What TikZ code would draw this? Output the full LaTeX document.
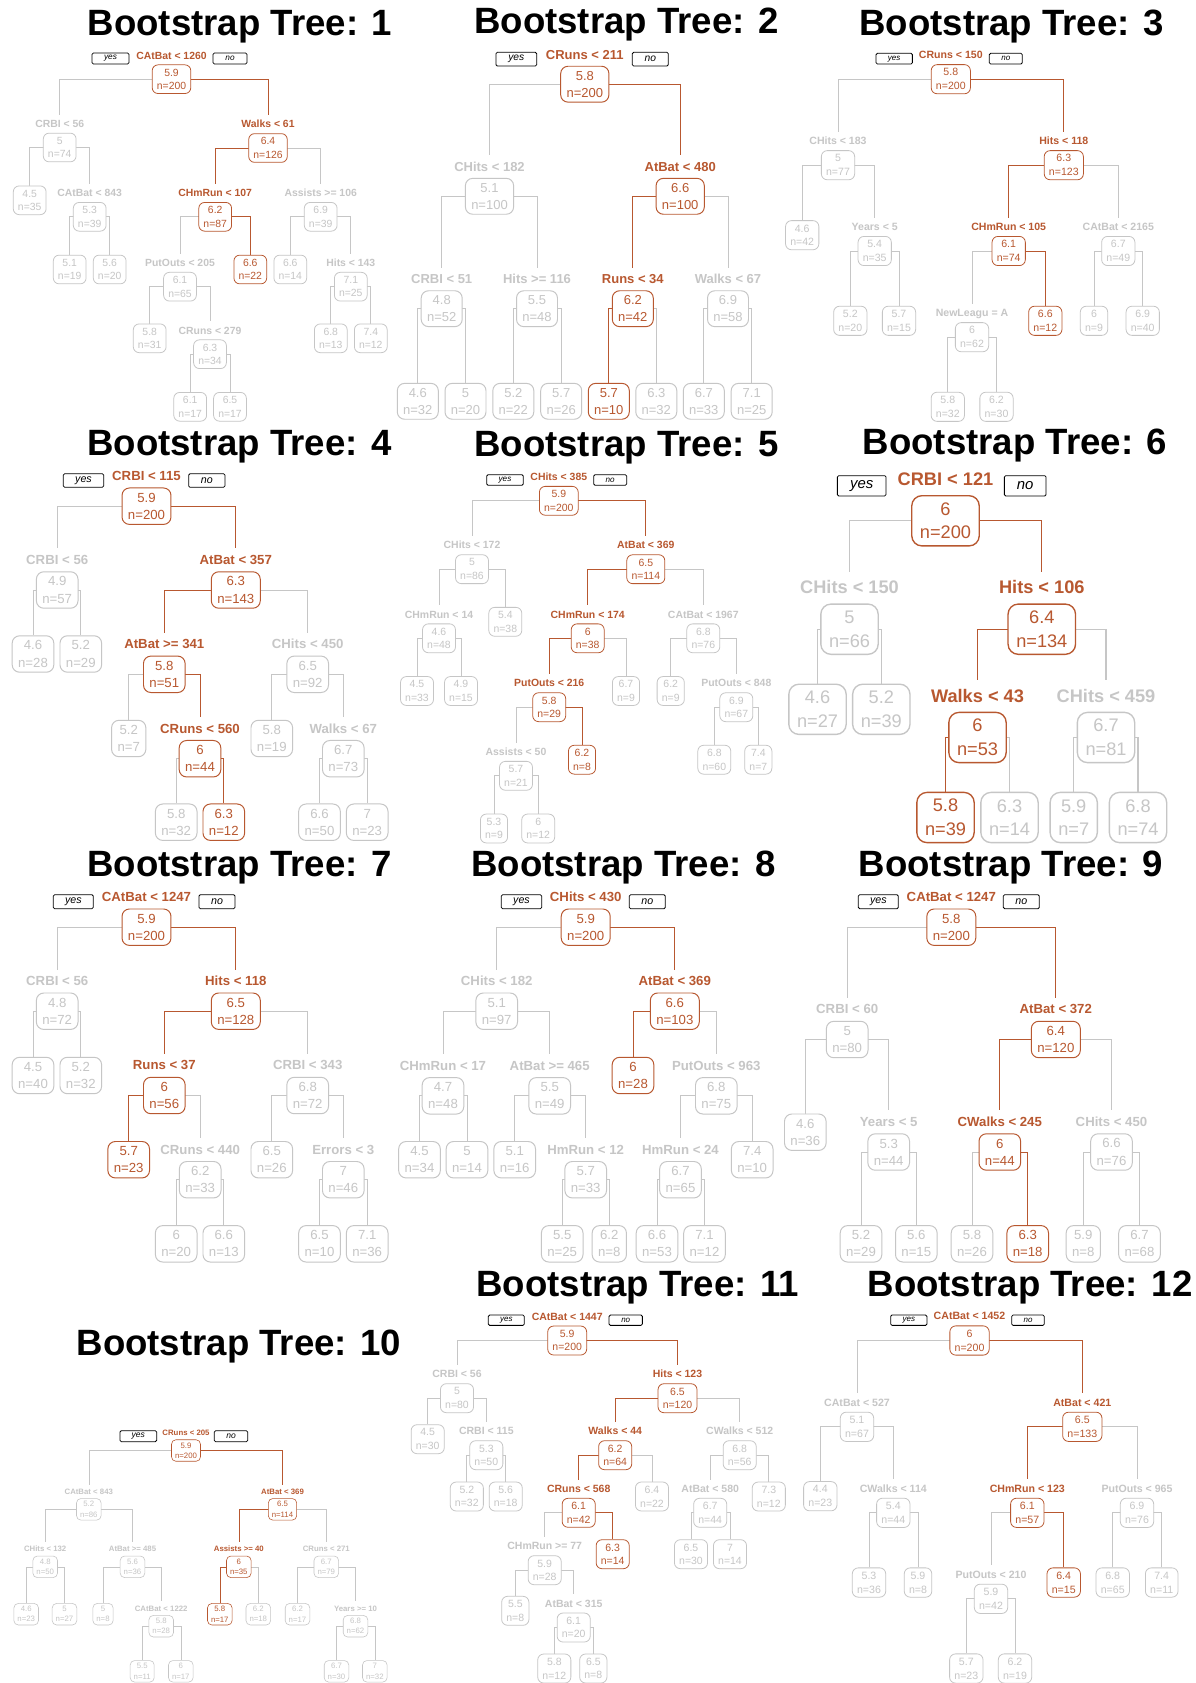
\documentclass[tikz,border=0pt]{standalone}
\usepackage{fontspec}
\setmainfont{Liberation Sans}
\pgfdeclarelayer{background}
\pgfsetlayers{background,main}
\definecolor{pathc}{RGB}{184,88,48}
\definecolor{greyc}{RGB}{198,198,198}
\newcommand\tSize[1]{%
 \pgfmathsetmacro\tsz{#1*0.75}%
 \pgfmathsetmacro\tbsz{#1*0.975}%
 \pgfmathsetmacro\trc{#1*0.42}%
 \pgfmathsetmacro\tixs{#1*0.3375}%
 \pgfmathsetmacro\tmh{#1*2.07}%
 \pgfmathsetmacro\tlw{#1*0.056}%
 \pgfmathsetmacro\tlth{#1*0.54}%
 \pgfmathsetmacro\tliy{#1*0.36}%
 \pgfmathsetmacro\tlgap{#1*0.39}%
}
\tikzset{
 bx/.style={draw, rounded corners=\trc pt, fill=white, align=center,
   inner xsep=\tixs pt, inner ysep=0pt, minimum height=\tmh pt,
   font=\fontsize{\tsz pt}{\tbsz pt}\selectfont, line width=\tlw pt},
 lab/.style={anchor=base, font=\fontsize{\tsz pt}{\tbsz pt}\selectfont\bfseries,
   inner xsep=0pt, inner ysep=\tliy pt, text height=\tlth pt, text depth=0pt},
 og/.style={draw=pathc, text=pathc},
 gy/.style={draw=greyc, text=greyc},
 eo/.style={line width=\tlw pt, draw=pathc},
 eg/.style={line width=\tlw pt, draw=greyc},
 yn/.style={draw=black, rounded corners=1pt, inner sep=0pt, line width=0.6pt, fill=white,
   font=\fontsize{\tynf pt}{\tynf pt}\selectfont\itshape},
 ttl/.style={anchor=base, inner sep=0pt, font=\fontsize{27.45pt}{30pt}\selectfont\bfseries},
}
\newcommand\tSN[7]{\node[bx,#6] (#1) at (#2,#3) {#4\\n=#5};
 \node[lab,#6,draw=none] (#1L) at ([yshift=\tlgap pt]#1.north) {#7};}
\newcommand\tLF[6]{\node[bx,#6] (#1) at (#2,#3) {#4\\n=#5};}
\newcommand\tEG[2]{\draw[eg] (#1.center) -| (#2.north);}
\newcommand\tEO[2]{\draw[eo] (#1.center) -| (#2.north);}
\newcommand\tYN[6]{\node[yn, minimum width=#4*0.75pt, minimum height=#5*0.75pt] (#1) at (#2,#3) {#6};}
\begin{document}
\begin{tikzpicture}[x=0.75pt, y=-0.75pt]
\begin{pgfonlayer}{background}
\fill[white] (0,0) rectangle (1195,1683);
\end{pgfonlayer}
\useasboundingbox (0,0) rectangle (1195,1683);

% titles
\node[ttl] (T1) at (240,36) {Bootstrap Tree: 1};
\node[ttl] (T2) at (626.5,34) {Bootstrap Tree: 2};
\node[ttl] (T3) at (1011.5,36) {Bootstrap Tree: 3};
\node[ttl] (T4) at (239.5,455.5) {Bootstrap Tree: 4};
\node[ttl] (T5) at (626.5,456.5) {Bootstrap Tree: 5};
\node[ttl] (T6) at (1015,454.5) {Bootstrap Tree: 6};
\node[ttl] (T7) at (239.5,876) {Bootstrap Tree: 7};
\node[ttl] (T8) at (623.5,876) {Bootstrap Tree: 8};
\node[ttl] (T9) at (1011,876) {Bootstrap Tree: 9};
\node[ttl] (T10) at (239,1355) {Bootstrap Tree: 10};
\node[ttl] (T11) at (637.7,1296.5) {Bootstrap Tree: 11};
\node[ttl] (T12) at (1030,1296.5) {Bootstrap Tree: 12};

% ---------------- Tree 1
\begin{scope}
\tSize{10.4}\def\tynf{6.2}
\tSN{t1}{171.5}{79.2}{5.9}{200}{og}{CAtBat < 1260}
\tSN{t1l}{59.7}{147.5}{5}{74}{gy}{CRBI < 56}
\tSN{t1r}{268}{148}{6.4}{126}{og}{Walks < 61}
\tLF{t1ll}{29.7}{200.3}{4.5}{35}{gy}
\tSN{t1lr}{89.7}{216.8}{5.3}{39}{gy}{CAtBat < 843}
\tLF{t1lrl}{69.7}{269.5}{5.1}{19}{gy}
\tLF{t1lrr}{109.7}{269.5}{5.6}{20}{gy}
\tSN{t1rl}{215.2}{216.8}{6.2}{87}{og}{CHmRun < 107}
\tSN{t1rr}{320.7}{216.8}{6.9}{39}{gy}{Assists >= 106}
\tSN{t1rll}{180}{286.7}{6.1}{65}{gy}{PutOuts < 205}
\tLF{t1rlr}{250.3}{269.5}{6.6}{22}{og}
\tLF{t1rrl}{290.3}{269.5}{6.6}{14}{gy}
\tSN{t1rrr}{350.8}{286.7}{7.1}{25}{gy}{Hits < 143}
\tLF{t1rlll}{149.7}{338.3}{5.8}{31}{gy}
\tSN{t1rllr}{210}{354.2}{6.3}{34}{gy}{CRuns < 279}
\tLF{t1rllrl}{190.2}{406.8}{6.1}{17}{gy}
\tLF{t1rllrr}{230}{406.8}{6.5}{17}{gy}
\tLF{t1rrrl}{330.8}{338.3}{6.8}{13}{gy}
\tLF{t1rrrr}{370.8}{338.3}{7.4}{12}{gy}
\tYN{t1y}{110.5}{58.5}{37}{11}{yes}
\tYN{t1n}{230}{58.5}{34}{11}{no}
\begin{pgfonlayer}{background}
\tEG{t1}{t1lL}\tEO{t1}{t1rL}
\tEG{t1l}{t1ll}\tEG{t1l}{t1lrL}
\tEG{t1lr}{t1lrl}\tEG{t1lr}{t1lrr}
\tEO{t1r}{t1rlL}\tEG{t1r}{t1rrL}
\tEG{t1rl}{t1rllL}\tEO{t1rl}{t1rlr}
\tEG{t1rr}{t1rrl}\tEG{t1rr}{t1rrrL}
\tEG{t1rll}{t1rlll}\tEG{t1rll}{t1rllrL}
\tEG{t1rllr}{t1rllrl}\tEG{t1rllr}{t1rllrr}
\tEG{t1rrr}{t1rrrl}\tEG{t1rrr}{t1rrrr}
\end{pgfonlayer}
\end{scope}

% ---------------- Tree 2
\begin{scope}
\tSize{13.0}\def\tynf{7.7}
\tSN{t2}{584.8}{84.2}{5.8}{200}{og}{CRuns < 211}
\tSN{t2l}{489.5}{196.3}{5.1}{100}{gy}{CHits < 182}
\tSN{t2r}{680.2}{196.3}{6.6}{100}{og}{AtBat < 480}
\tSN{t2ll}{441.7}{308.7}{4.8}{52}{gy}{CRBI < 51}
\tSN{t2lr}{537}{308.7}{5.5}{48}{gy}{Hits >= 116}
\tSN{t2rl}{632.8}{308.7}{6.2}{42}{og}{Runs < 34}
\tSN{t2rr}{728}{308.7}{6.9}{58}{gy}{Walks < 67}
\tLF{t2lll}{417.8}{401.3}{4.6}{32}{gy}
\tLF{t2llr}{465.5}{401.3}{5}{20}{gy}
\tLF{t2lrl}{513.3}{401.3}{5.2}{22}{gy}
\tLF{t2lrr}{561.2}{401.3}{5.7}{26}{gy}
\tLF{t2rll}{608.8}{401.3}{5.7}{10}{og}
\tLF{t2rlr}{656.3}{401.3}{6.3}{32}{gy}
\tLF{t2rrl}{703.8}{401.3}{6.7}{33}{gy}
\tLF{t2rrr}{751.7}{401.3}{7.1}{25}{gy}
\tYN{t2y}{516.3}{59.2}{40.7}{13.7}{yes}
\tYN{t2n}{650.3}{59.2}{36}{13.7}{no}
\begin{pgfonlayer}{background}
\tEG{t2}{t2lL}\tEO{t2}{t2rL}
\tEG{t2l}{t2llL}\tEG{t2l}{t2lrL}
\tEO{t2r}{t2rlL}\tEG{t2r}{t2rrL}
\tEG{t2ll}{t2lll}\tEG{t2ll}{t2llr}
\tEG{t2lr}{t2lrl}\tEG{t2lr}{t2lrr}
\tEO{t2rl}{t2rll}\tEG{t2rl}{t2rlr}
\tEG{t2rr}{t2rrl}\tEG{t2rr}{t2rrr}
\end{pgfonlayer}
\end{scope}

% ---------------- Tree 3
\begin{scope}
\tSize{10.56}\def\tynf{6.0}
\tSN{t3}{950.8}{79.2}{5.8}{200}{og}{CRuns < 150}
\tSN{t3l}{838}{165.2}{5}{77}{gy}{CHits < 183}
\tSN{t3r}{1063.8}{165.2}{6.3}{123}{og}{Hits < 118}
\tLF{t3ll}{802.2}{235.2}{4.6}{42}{gy}
\tSN{t3lr}{874.7}{251}{5.4}{35}{gy}{Years < 5}
\tSN{t3rl}{1008.7}{251}{6.1}{74}{og}{CHmRun < 105}
\tSN{t3rr}{1118.3}{251}{6.7}{49}{gy}{CAtBat < 2165}
\tLF{t3lrl}{850.3}{320.8}{5.2}{20}{gy}
\tLF{t3lrr}{899}{320.8}{5.7}{15}{gy}
\tSN{t3rll}{972}{337.2}{6}{62}{gy}{NewLeagu = A}
\tLF{t3rlr}{1045.3}{320.8}{6.6}{12}{og}
\tLF{t3rrl}{1094}{320.8}{6}{9}{gy}
\tLF{t3rrr}{1142.7}{320.8}{6.9}{40}{gy}
\tLF{t3rlll}{947.8}{406.8}{5.8}{32}{gy}
\tLF{t3rllr}{996.5}{406.8}{6.2}{30}{gy}
\tYN{t3y}{894.2}{58.7}{36.3}{10.7}{yes}
\tYN{t3n}{1005.8}{58.7}{33}{10.7}{no}
\begin{pgfonlayer}{background}
\tEG{t3}{t3lL}\tEO{t3}{t3rL}
\tEG{t3l}{t3ll}\tEG{t3l}{t3lrL}
\tEO{t3r}{t3rlL}\tEG{t3r}{t3rrL}
\tEG{t3lr}{t3lrl}\tEG{t3lr}{t3lrr}
\tEG{t3rl}{t3rllL}\tEO{t3rl}{t3rlr}
\tEG{t3rr}{t3rrl}\tEG{t3rr}{t3rrr}
\tEG{t3rll}{t3rlll}\tEG{t3rll}{t3rllr}
\end{pgfonlayer}
\end{scope}

% ---------------- Tree 4
\begin{scope}
\tSize{13.2}\def\tynf{8.0}
\tSN{t4}{146.5}{506.2}{5.9}{200}{og}{CRBI < 115}
\tSN{t4l}{57.2}{590}{4.9}{57}{gy}{CRBI < 56}
\tSN{t4r}{235.8}{590}{6.3}{143}{og}{AtBat < 357}
\tLF{t4ll}{33}{654}{4.6}{28}{gy}
\tLF{t4lr}{80.8}{654}{5.2}{29}{gy}
\tSN{t4rl}{164.3}{674.3}{5.8}{51}{og}{AtBat >= 341}
\tSN{t4rr}{307.7}{674.3}{6.5}{92}{gy}{CHits < 450}
\tLF{t4rll}{128.7}{738.5}{5.2}{7}{gy}
\tSN{t4rlr}{200}{758.7}{6}{44}{og}{CRuns < 560}
\tLF{t4rrl}{271.8}{738.5}{5.8}{19}{gy}
\tSN{t4rrr}{343.3}{758.7}{6.7}{73}{gy}{Walks < 67}
\tLF{t4rlrl}{176.2}{822.2}{5.8}{32}{gy}
\tLF{t4rlrr}{223.8}{822.2}{6.3}{12}{og}
\tLF{t4rrrl}{319.5}{822.2}{6.6}{50}{gy}
\tLF{t4rrrr}{367.2}{822.2}{7}{23}{gy}
\tYN{t4y}{83.5}{480.5}{40.4}{13.6}{yes}
\tYN{t4n}{206.8}{480.5}{36.3}{13.6}{no}
\begin{pgfonlayer}{background}
\tEG{t4}{t4lL}\tEO{t4}{t4rL}
\tEG{t4l}{t4ll}\tEG{t4l}{t4lr}
\tEO{t4r}{t4rlL}\tEG{t4r}{t4rrL}
\tEG{t4rl}{t4rll}\tEO{t4rl}{t4rlrL}
\tEG{t4rr}{t4rrl}\tEG{t4rr}{t4rrrL}
\tEG{t4rlr}{t4rlrl}\tEO{t4rlr}{t4rlrr}
\tEG{t4rrr}{t4rrrl}\tEG{t4rrr}{t4rrrr}
\end{pgfonlayer}
\end{scope}

% ---------------- Tree 5
\begin{scope}
\tSize{10.46}\def\tynf{6.1}
\tSN{t5}{558.8}{500.8}{5.9}{200}{og}{CHits < 385}
\tSN{t5l}{472}{569.2}{5}{86}{gy}{CHits < 172}
\tSN{t5r}{645.8}{569.2}{6.5}{114}{og}{AtBat < 369}
\tSN{t5ll}{439}{638.3}{4.6}{48}{gy}{CHmRun < 14}
\tLF{t5lr}{505.3}{621.8}{5.4}{38}{gy}
\tSN{t5rl}{587.7}{638.3}{6}{38}{og}{CHmRun < 174}
\tSN{t5rr}{703.3}{638.3}{6.8}{76}{gy}{CAtBat < 1967}
\tLF{t5lll}{417}{691}{4.5}{33}{gy}
\tLF{t5llr}{461}{691}{4.9}{15}{gy}
\tSN{t5rll}{549.2}{707.2}{5.8}{29}{og}{PutOuts < 216}
\tLF{t5rlr}{626}{691}{6.7}{9}{gy}
\tLF{t5rrl}{670.7}{691}{6.2}{9}{gy}
\tSN{t5rrr}{736.3}{707.2}{6.9}{67}{gy}{PutOuts < 848}
\tSN{t5rlll}{516}{775.8}{5.7}{21}{gy}{Assists < 50}
\tLF{t5rllr}{582}{759.7}{6.2}{8}{og}
\tLF{t5rrrl}{714.3}{759.7}{6.8}{60}{gy}
\tLF{t5rrrr}{758.3}{759.7}{7.4}{7}{gy}
\tLF{t5rllll}{494}{828.5}{5.3}{9}{gy}
\tLF{t5rlllr}{538.2}{828.5}{6}{12}{gy}
\tYN{t5y}{505}{480}{36.6}{10.6}{yes}
\tYN{t5n}{610.2}{480}{33}{10.6}{no}
\begin{pgfonlayer}{background}
\tEG{t5}{t5lL}\tEO{t5}{t5rL}
\tEG{t5l}{t5llL}\tEG{t5l}{t5lr}
\tEO{t5r}{t5rlL}\tEG{t5r}{t5rrL}
\tEG{t5ll}{t5lll}\tEG{t5ll}{t5llr}
\tEO{t5rl}{t5rllL}\tEG{t5rl}{t5rlr}
\tEG{t5rr}{t5rrl}\tEG{t5rr}{t5rrrL}
\tEG{t5rll}{t5rlllL}\tEO{t5rll}{t5rllr}
\tEG{t5rrr}{t5rrrl}\tEG{t5rrr}{t5rrrr}
\tEG{t5rlll}{t5rllll}\tEG{t5rlll}{t5rlllr}
\end{pgfonlayer}
\end{scope}

% ---------------- Tree 6
\begin{scope}
\tSize{18.2}\def\tynf{11.2}
\tSN{t6}{945.5}{520.8}{6}{200}{og}{CRBI < 121}
\tSN{t6l}{849.5}{629.2}{5}{66}{gy}{CHits < 150}
\tSN{t6r}{1041.8}{629.2}{6.4}{134}{og}{Hits < 106}
\tLF{t6ll}{817.5}{709.3}{4.6}{27}{gy}
\tLF{t6lr}{881.3}{709.3}{5.2}{39}{gy}
\tSN{t6rl}{977.5}{737.5}{6}{53}{og}{Walks < 43}
\tSN{t6rr}{1106}{737.5}{6.7}{81}{gy}{CHits < 459}
\tLF{t6rll}{945.5}{817.5}{5.8}{39}{og}
\tLF{t6rlr}{1009.5}{817.5}{6.3}{14}{gy}
\tLF{t6rrl}{1073.7}{817.5}{5.9}{7}{gy}
\tLF{t6rrr}{1138}{817.5}{6.8}{74}{gy}
\tYN{t6y}{861.7}{485.8}{48.7}{20.3}{yes}
\tYN{t6n}{1025.2}{485.8}{41.7}{20.3}{no}
\begin{pgfonlayer}{background}
\tEG{t6}{t6lL}\tEO{t6}{t6rL}
\tEG{t6l}{t6ll}\tEG{t6l}{t6lr}
\tEO{t6r}{t6rlL}\tEG{t6r}{t6rrL}
\tEO{t6rl}{t6rll}\tEG{t6rl}{t6rlr}
\tEG{t6rr}{t6rrl}\tEG{t6rr}{t6rrr}
\end{pgfonlayer}
\end{scope}

% ---------------- Tree 7
\begin{scope}
\tSize{13.2}\def\tynf{8.0}
\tSN{t7}{146.5}{927.2}{5.9}{200}{og}{CAtBat < 1247}
\tSN{t7l}{57.2}{1011.2}{4.8}{72}{gy}{CRBI < 56}
\tSN{t7r}{235.8}{1011.2}{6.5}{128}{og}{Hits < 118}
\tLF{t7ll}{33}{1075.5}{4.5}{40}{gy}
\tLF{t7lr}{80.8}{1075.5}{5.2}{32}{gy}
\tSN{t7rl}{164.3}{1095.5}{6}{56}{og}{Runs < 37}
\tSN{t7rr}{307.7}{1095.5}{6.8}{72}{gy}{CRBI < 343}
\tLF{t7rll}{128.7}{1159.7}{5.7}{23}{og}
\tSN{t7rlr}{200.2}{1179.7}{6.2}{33}{gy}{CRuns < 440}
\tLF{t7rrl}{271.8}{1159.7}{6.5}{26}{gy}
\tSN{t7rrr}{343.3}{1179.7}{7}{46}{gy}{Errors < 3}
\tLF{t7rlrl}{176.2}{1243.8}{6}{20}{gy}
\tLF{t7rlrr}{223.8}{1243.8}{6.6}{13}{gy}
\tLF{t7rrrl}{319.5}{1243.8}{6.5}{10}{gy}
\tLF{t7rrrr}{367.2}{1243.8}{7.1}{36}{gy}
\tYN{t7y}{73.3}{901.7}{40}{14}{yes}
\tYN{t7n}{217}{901.7}{36}{14}{no}
\begin{pgfonlayer}{background}
\tEG{t7}{t7lL}\tEO{t7}{t7rL}
\tEG{t7l}{t7ll}\tEG{t7l}{t7lr}
\tEO{t7r}{t7rlL}\tEG{t7r}{t7rrL}
\tEO{t7rl}{t7rll}\tEG{t7rl}{t7rlrL}
\tEG{t7rr}{t7rrl}\tEG{t7rr}{t7rrrL}
\tEG{t7rlr}{t7rlrl}\tEG{t7rlr}{t7rlrr}
\tEG{t7rrr}{t7rrrl}\tEG{t7rrr}{t7rrrr}
\end{pgfonlayer}
\end{scope}

% ---------------- Tree 8
\begin{scope}
\tSize{13.2}\def\tynf{8.0}
\tSN{t8}{585.7}{927.2}{5.9}{200}{og}{CHits < 430}
\tSN{t8l}{496.7}{1011.2}{5.1}{97}{gy}{CHits < 182}
\tSN{t8r}{674.8}{1011.2}{6.6}{103}{og}{AtBat < 369}
\tSN{t8ll}{443}{1095.8}{4.7}{48}{gy}{CHmRun < 17}
\tSN{t8lr}{549.7}{1095.8}{5.5}{49}{gy}{AtBat >= 465}
\tLF{t8rl}{633}{1075.5}{6}{28}{og}
\tSN{t8rr}{716.3}{1095.8}{6.8}{75}{gy}{PutOuts < 963}
\tLF{t8lll}{419.5}{1159.7}{4.5}{34}{gy}
\tLF{t8llr}{467}{1159.7}{5}{14}{gy}
\tLF{t8lrl}{514.7}{1159.7}{5.1}{16}{gy}
\tSN{t8lrr}{585.7}{1179.7}{5.7}{33}{gy}{HmRun < 12}
\tSN{t8rrl}{680.5}{1179.7}{6.7}{65}{gy}{HmRun < 24}
\tLF{t8rrr}{752.2}{1159.7}{7.4}{10}{gy}
\tLF{t8lrrl}{562.2}{1243.8}{5.5}{25}{gy}
\tLF{t8lrrr}{609.3}{1243.8}{6.2}{8}{gy}
\tLF{t8rrll}{657}{1243.8}{6.6}{53}{gy}
\tLF{t8rrlr}{704.5}{1243.8}{7.1}{12}{gy}
\tYN{t8y}{521.5}{901.7}{40.4}{14}{yes}
\tYN{t8n}{647.3}{901.7}{36}{14}{no}
\begin{pgfonlayer}{background}
\tEG{t8}{t8lL}\tEO{t8}{t8rL}
\tEG{t8l}{t8llL}\tEG{t8l}{t8lrL}
\tEO{t8r}{t8rl}\tEG{t8r}{t8rrL}
\tEG{t8ll}{t8lll}\tEG{t8ll}{t8llr}
\tEG{t8lr}{t8lrl}\tEG{t8lr}{t8lrrL}
\tEG{t8rr}{t8rrlL}\tEG{t8rr}{t8rrr}
\tEG{t8lrr}{t8lrrl}\tEG{t8lrr}{t8lrrr}
\tEG{t8rrl}{t8rrll}\tEG{t8rrl}{t8rrlr}
\end{pgfonlayer}
\end{scope}

% ---------------- Tree 9
\begin{scope}
\tSize{13.2}\def\tynf{8.0}
\tSN{t9}{951.3}{927.2}{5.8}{200}{og}{CAtBat < 1247}
\tSN{t9l}{847.2}{1039.5}{5}{80}{gy}{CRBI < 60}
\tSN{t9r}{1055.8}{1039.5}{6.4}{120}{og}{AtBat < 372}
\tLF{t9ll}{805.3}{1132.2}{4.6}{36}{gy}
\tSN{t9lr}{888.7}{1152}{5.3}{44}{gy}{Years < 5}
\tSN{t9rl}{999.8}{1152}{6}{44}{og}{CWalks < 245}
\tSN{t9rr}{1111.5}{1152}{6.6}{76}{gy}{CHits < 450}
\tLF{t9lrl}{861}{1243.8}{5.2}{29}{gy}
\tLF{t9lrr}{916.3}{1243.8}{5.6}{15}{gy}
\tLF{t9rll}{972}{1243.8}{5.8}{26}{gy}
\tLF{t9rlr}{1027.7}{1243.8}{6.3}{18}{og}
\tLF{t9rrl}{1083.3}{1243.8}{5.9}{8}{gy}
\tLF{t9rrr}{1139.5}{1243.8}{6.7}{68}{gy}
\tYN{t9y}{878.3}{901.7}{40}{14}{yes}
\tYN{t9n}{1021.3}{901.7}{36}{14}{no}
\begin{pgfonlayer}{background}
\tEG{t9}{t9lL}\tEO{t9}{t9rL}
\tEG{t9l}{t9ll}\tEG{t9l}{t9lrL}
\tEO{t9r}{t9rlL}\tEG{t9r}{t9rrL}
\tEG{t9lr}{t9lrl}\tEG{t9lr}{t9lrr}
\tEG{t9rl}{t9rll}\tEO{t9rl}{t9rlr}
\tEG{t9rr}{t9rrl}\tEG{t9rr}{t9rrr}
\end{pgfonlayer}
\end{scope}

% ---------------- Tree 10
\begin{scope}
\tSize{7.8}\def\tynf{6.4}
\tSN{t10}{186}{1450.5}{5.9}{200}{og}{CRuns < 205}
\tSN{t10l}{88.8}{1509.3}{5.2}{86}{gy}{CAtBat < 843}
\tSN{t10r}{282.5}{1509.3}{6.5}{114}{og}{AtBat < 369}
\tSN{t10ll}{45.2}{1566.8}{4.8}{50}{gy}{CHits < 132}
\tSN{t10lr}{132.5}{1566.8}{5.6}{36}{gy}{AtBat >= 485}
\tSN{t10rl}{238.8}{1566.8}{6}{35}{og}{Assists >= 40}
\tSN{t10rr}{326.3}{1566.8}{6.7}{79}{gy}{CRuns < 271}
\tLF{t10lll}{26.2}{1614.2}{4.6}{23}{gy}
\tLF{t10llr}{64.5}{1614.2}{5}{27}{gy}
\tLF{t10lrl}{103}{1614.2}{5}{8}{gy}
\tSN{t10lrr}{161.2}{1626.2}{5.8}{28}{gy}{CAtBat < 1222}
\tLF{t10rll}{219.8}{1614.2}{5.8}{17}{og}
\tLF{t10rlr}{258.3}{1614.2}{6.2}{18}{gy}
\tLF{t10rrl}{297.5}{1614.2}{6.2}{17}{gy}
\tSN{t10rrr}{355.5}{1626.2}{6.8}{62}{gy}{Years >= 10}
\tLF{t10lrrl}{142.2}{1671.3}{5.5}{11}{gy}
\tLF{t10lrrr}{180.8}{1671.3}{6}{17}{gy}
\tLF{t10rrrl}{336.5}{1671.3}{6.7}{30}{gy}
\tLF{t10rrrr}{374.8}{1671.3}{7}{32}{gy}
\tYN{t10y}{138.3}{1436.2}{36.7}{11}{yes}
\tYN{t10n}{231}{1436.2}{33.4}{11}{no}
\begin{pgfonlayer}{background}
\tEG{t10}{t10lL}\tEO{t10}{t10rL}
\tEG{t10l}{t10llL}\tEG{t10l}{t10lrL}
\tEO{t10r}{t10rlL}\tEG{t10r}{t10rrL}
\tEG{t10ll}{t10lll}\tEG{t10ll}{t10llr}
\tEG{t10lr}{t10lrl}\tEG{t10lr}{t10lrrL}
\tEO{t10rl}{t10rll}\tEG{t10rl}{t10rlr}
\tEG{t10rr}{t10rrl}\tEG{t10rr}{t10rrrL}
\tEG{t10lrr}{t10lrrl}\tEG{t10lrr}{t10lrrr}
\tEG{t10rrr}{t10rrrl}\tEG{t10rrr}{t10rrrr}
\end{pgfonlayer}
\end{scope}

% ---------------- Tree 11
\begin{scope}
\tSize{10.5}\def\tynf{6.0}
\tSN{t11}{567.2}{1340.5}{5.9}{200}{og}{CAtBat < 1447}
\tSN{t11l}{457}{1398.2}{5}{80}{gy}{CRBI < 56}
\tSN{t11r}{677.5}{1398.2}{6.5}{120}{og}{Hits < 123}
\tLF{t11ll}{427.7}{1439.2}{4.5}{30}{gy}
\tSN{t11lr}{486.3}{1455.2}{5.3}{50}{gy}{CRBI < 115}
\tSN{t11rl}{615.2}{1455.2}{6.2}{64}{og}{Walks < 44}
\tSN{t11rr}{739.7}{1455.2}{6.8}{56}{gy}{CWalks < 512}
\tLF{t11lrl}{466.8}{1496.5}{5.2}{32}{gy}
\tLF{t11lrr}{505.7}{1496.5}{5.6}{18}{gy}
\tSN{t11rll}{578.7}{1512.8}{6.1}{42}{og}{CRuns < 568}
\tLF{t11rlr}{652}{1496.5}{6.4}{22}{gy}
\tSN{t11rrl}{710.2}{1512.8}{6.7}{44}{gy}{AtBat < 580}
\tLF{t11rrr}{768.8}{1496.5}{7.3}{12}{gy}
\tSN{t11rlll}{544.7}{1570.2}{5.9}{28}{gy}{CHmRun >= 77}
\tLF{t11rllr}{612.7}{1554.2}{6.3}{14}{og}
\tLF{t11rrll}{691}{1554.2}{6.5}{30}{gy}
\tLF{t11rrlr}{730}{1554.2}{7}{14}{gy}
\tLF{t11rllll}{515.3}{1610.8}{5.5}{8}{gy}
\tSN{t11rlllr}{573.7}{1627.5}{6.1}{20}{gy}{AtBat < 315}
\tLF{t11rlllrl}{554.3}{1668.5}{5.8}{12}{gy}
\tLF{t11rlllrr}{593.3}{1668.5}{6.5}{8}{gy}
\tYN{t11y}{506.3}{1320.2}{36}{10.3}{yes}
\tYN{t11n}{625.7}{1320.2}{33.3}{10.3}{no}
\begin{pgfonlayer}{background}
\tEG{t11}{t11lL}\tEO{t11}{t11rL}
\tEG{t11l}{t11ll}\tEG{t11l}{t11lrL}
\tEO{t11r}{t11rlL}\tEG{t11r}{t11rrL}
\tEG{t11lr}{t11lrl}\tEG{t11lr}{t11lrr}
\tEO{t11rl}{t11rllL}\tEG{t11rl}{t11rlr}
\tEG{t11rr}{t11rrlL}\tEG{t11rr}{t11rrr}
\tEG{t11rll}{t11rlllL}\tEO{t11rll}{t11rllr}
\tEG{t11rrl}{t11rrll}\tEG{t11rrl}{t11rrlr}
\tEG{t11rlll}{t11rllll}\tEG{t11rlll}{t11rlllrL}
\tEG{t11rlllr}{t11rlllrl}\tEG{t11rlllr}{t11rlllrr}
\end{pgfonlayer}
\end{scope}

% ---------------- Tree 12
\begin{scope}
\tSize{10.6}\def\tynf{6.0}
\tSN{t12}{969.5}{1340.5}{6}{200}{og}{CAtBat < 1452}
\tSN{t12l}{857}{1426.8}{5.1}{67}{gy}{CAtBat < 527}
\tSN{t12r}{1082.3}{1426.8}{6.5}{133}{og}{AtBat < 421}
\tLF{t12ll}{820.3}{1496.2}{4.4}{23}{gy}
\tSN{t12lr}{893.3}{1512.8}{5.4}{44}{gy}{CWalks < 114}
\tSN{t12rl}{1027.3}{1512.8}{6.1}{57}{og}{CHmRun < 123}
\tSN{t12rr}{1137}{1512.8}{6.9}{76}{gy}{PutOuts < 965}
\tLF{t12lrl}{869}{1582.5}{5.3}{36}{gy}
\tLF{t12lrr}{918}{1582.5}{5.9}{8}{gy}
\tSN{t12rll}{991}{1598.8}{5.9}{42}{gy}{PutOuts < 210}
\tLF{t12rlr}{1063.7}{1582.5}{6.4}{15}{og}
\tLF{t12rrl}{1112.7}{1582.5}{6.8}{65}{gy}
\tLF{t12rrr}{1161.7}{1582.5}{7.4}{11}{gy}
\tLF{t12rlll}{966.3}{1668.5}{5.7}{23}{gy}
\tLF{t12rllr}{1015}{1668.5}{6.2}{19}{gy}
\tYN{t12y}{908.8}{1320.2}{36.3}{10.3}{yes}
\tYN{t12n}{1028}{1320.2}{32.6}{10.3}{no}
\begin{pgfonlayer}{background}
\tEG{t12}{t12lL}\tEO{t12}{t12rL}
\tEG{t12l}{t12ll}\tEG{t12l}{t12lrL}
\tEO{t12r}{t12rlL}\tEG{t12r}{t12rrL}
\tEG{t12lr}{t12lrl}\tEG{t12lr}{t12lrr}
\tEG{t12rl}{t12rllL}\tEO{t12rl}{t12rlr}
\tEG{t12rr}{t12rrl}\tEG{t12rr}{t12rrr}
\tEG{t12rll}{t12rlll}\tEG{t12rll}{t12rllr}
\end{pgfonlayer}
\end{scope}
\end{tikzpicture}
\end{document}
